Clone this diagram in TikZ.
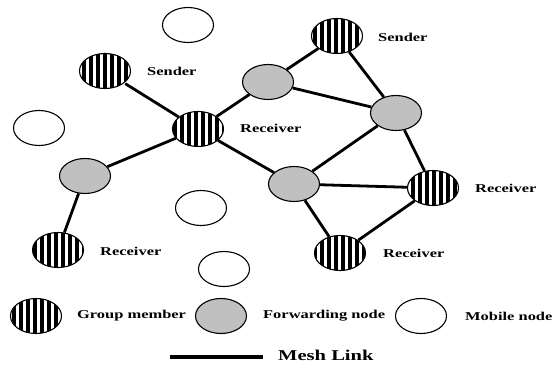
\documentclass[tikz,border=0pt]{standalone}
\usepackage{fontspec}
\newfontfamily\lblfont[FakeStretch=1.37]{Liberation Serif}
\usepackage{tikz}
\usetikzlibrary{shapes.geometric, patterns.meta}
\definecolor{fwdgray}{RGB}{192,192,192}

\begin{document}
\begin{tikzpicture}[x=1pt, y=-1pt,
  mobile/.style={ellipse, draw, line width=1.1pt, minimum width=51pt, minimum height=35pt, inner sep=0pt},
  member/.style={mobile, pattern={Lines[angle=90, distance=7pt, line width=3.2pt]}},
  fwd/.style={mobile, fill=fwdgray},
  lbl/.style={anchor=west, inner sep=0pt, font=\lblfont\bfseries\fontsize{12}{12}\selectfont},
  link/.style={line width=2.8pt}]
  \useasboundingbox (0,0) rectangle (556,366);

  % mobile nodes
  \node[mobile] (m1) at (188,25) {};
  \node[mobile] (m2) at (39,128) {};
  \node[mobile] (m3) at (201,208) {};
  \node[mobile] (m4) at (224,269) {};

  % group members
  \node[member] (snd1) at (105,71) {};
  \node[member] (rcv1) at (198,129) {};
  \node[member] (snd2) at (337,36) {};
  \node[member] (rcv2) at (433,188) {};
  \node[member] (rcv3) at (340,253) {};
  \node[member] (rcv4) at (58,250) {};

  % forwarding nodes
  \node[fwd] (f1) at (268,82) {};
  \node[fwd] (f2) at (396,113) {};
  \node[fwd] (f3) at (85,176) {};
  \node[fwd] (f4) at (294,184) {};

  \node[lbl] (lsnd1) at (147,71) {Sender};
  \node[lbl] (lsnd2) at (378,37) {Sender};
  \node[lbl] (lrcv1) at (240,128) {Receiver};
  \node[lbl] (lrcv2) at (475,188) {Receiver};
  \node[lbl] (lrcv3) at (383,253) {Receiver};
  \node[lbl] (lrcv4) at (100,251) {Receiver};

  % mesh links
  \draw[link] (snd1) -- (rcv1);
  \draw[link] (rcv1) -- (f1);
  \draw[link] (rcv1) -- (f3);
  \draw[link] (rcv1) -- (f4);
  \draw[link] (f3) -- (rcv4);
  \draw[link] (f1) -- (snd2);
  \draw[link] (f1) -- (f2);
  \draw[link] (snd2) -- (f2);
  \draw[link] (f2) -- (f4);
  \draw[link] (f2) -- (rcv2);
  \draw[link] (f4) -- (rcv2);
  \draw[link] (f4) -- (rcv3);
  \draw[link] (rcv3) -- (rcv2);

  % legend
  \node[member] (kmem) at (36,316) {};
  \node[lbl] (lmem) at (77,316) {Group member};
  \node[fwd] (kfwd) at (221,316) {};
  \node[lbl] (lfwd) at (263,316) {Forwarding node};
  \node[mobile] (kmob) at (421,316) {};
  \node[lbl] (lmob) at (465,316) {Mobile node};
  \coordinate (ka) at (170,357);
  \coordinate (kb) at (263,357);
  \draw[line width=4pt] (ka) -- (kb);
  \node[lbl, font=\lblfont\bfseries\fontsize{15}{15}\selectfont] (llink) at (278,355) {Mesh Link};
\end{tikzpicture}
\end{document}
